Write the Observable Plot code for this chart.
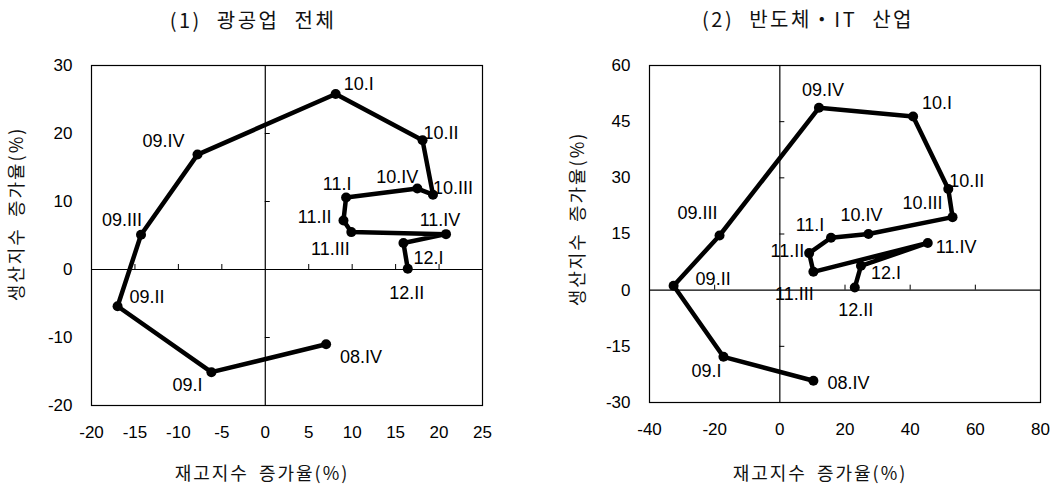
<!DOCTYPE html>
<html><head><meta charset="utf-8">
<script src="https://cdn.jsdelivr.net/npm/d3@7"></script>
<script src="https://cdn.jsdelivr.net/npm/@observablehq/plot@0.6"></script>
<style>
html,body{margin:0;padding:0;background:#fff;}
#wrap{position:relative;width:1053px;height:488px;overflow:hidden;background:#fff;}
.panel{position:absolute;top:0;}
.ktext{position:absolute;font-family:"Noto Sans CJK KR","Noto Sans",sans-serif;color:#111;white-space:nowrap;transform:translate(-50%,-50%);}
.title{font-size:20px;letter-spacing:2.5px;word-spacing:8px;}
.axt{font-size:18px;letter-spacing:2px;word-spacing:4px;}
.rot{transform:translate(-50%,-50%) rotate(-90deg);}
</style>
</head><body><div id="wrap"></div>
<script>
// ---- data ----
const quarters = ["08.IV","09.I","09.II","09.III","09.IV","10.I","10.II","10.III","10.IV","11.I","11.II","11.III","11.IV","12.I","12.II"];
const mfgInventory  = [7.0, -6.2, -17.0, -14.3, -7.8, 8.1, 18.1, 19.3, 17.5, 9.3, 9.0, 9.9, 20.8, 15.9, 16.4];
const mfgProduction = [-11.0, -15.1, -5.4, 5.1, 16.9, 25.8, 19.0, 11.0, 11.9, 10.6, 7.2, 5.5, 5.2, 3.9, 0.1];
const semiInventory  = [10.3, -17.3, -32.6, -18.5, 12.0, 40.9, 51.7, 53.0, 27.2, 15.7, 9.0, 10.3, 45.4, 24.9, 23.0];
const semiProduction = [-24.2, -17.8, 1.2, 14.6, 48.7, 46.4, 27.0, 19.5, 15.0, 14.0, 9.9, 4.9, 12.6, 6.5, 0.7];
const mfgXTicks = [-20, -15, -10, -5, 0, 5, 10, 15, 20, 25];
const mfgYTicks = [-20, -10, 0, 10, 20, 30];
const semiXTicks = [-40, -20, 0, 20, 40, 60, 80];
const semiYTicks = [-30, -15, 0, 15, 30, 45, 60];
const titles = ["(1) 광공업 전체", "(2) 반도체・IT 산업"];
const xTitle = "재고지수 증가율(%)";
const yTitle = "생산지수 증가율(%)";

// ---- label placement (layout only) ----
const mfgLabelPos = {
  "08.IV":[14,13,"start"], "09.I":[-24,13,"middle"], "09.II":[12,-9,"start"], "09.III":[1,-15,"end"],
  "09.IV":[-34,-13,"middle"], "10.I":[8,-10,"start"], "10.II":[1,-7,"start"], "10.III":[0,-6,"start"],
  "10.IV":[-20,-11,"middle"], "11.I":[-9,-13,"middle"], "11.II":[-12,-3,"end"], "11.III":[-21,17,"middle"],
  "11.IV":[-6,-14,"middle"], "12.I":[10,15,"start"], "12.II":[-1,24,"middle"]
};
const semiLabelPos = {
  "08.IV":[14,2,"start"], "09.I":[-17,14,"middle"], "09.II":[22,-6,"start"], "09.III":[-22,-22,"middle"],
  "09.IV":[4,-18,"middle"], "10.I":[9,-13,"start"], "10.II":[1,-8,"start"], "10.III":[-10,-14,"end"],
  "10.IV":[-7,-19,"middle"], "11.I":[-21,-13,"middle"], "11.II":[-5,-2,"end"], "11.III":[-19,22,"middle"],
  "11.IV":[8,4,"start"], "12.I":[10,7,"start"], "12.II":[1,23,"middle"]
};

function makeChart({xs, ys, xTicks, yTicks, labelPos, width, margins}) {
  const [mt, mr, mb, ml] = margins;
  const height = 488;
  const rows = quarters.map((q, i) => ({q, x: xs[i], y: ys[i]}));
  const xDom = [xTicks[0], xTicks[xTicks.length-1]];
  const yDom = [yTicks[0], yTicks[yTicks.length-1]];
  const pxX = (xDom[1]-xDom[0]) / (width - ml - mr);
  const pxY = (yDom[1]-yDom[0]) / (height - mt - mb);
  const tl = 5;
  const innerX = xTicks.filter(v => v !== 0 && v > xDom[0] && v < xDom[1]);
  const innerY = yTicks.filter(v => v !== 0 && v > yDom[0] && v < yDom[1]);
  const labelMarks = rows.map(r => Plot.text([r], {x: "x", y: "y", text: "q", textAnchor: labelPos[r.q][2],
      dx: labelPos[r.q][0], dy: labelPos[r.q][1], lineAnchor: "middle",
      fontSize: 18, fill: "#000", fontFamily: "'Liberation Sans', Arial, sans-serif"}));
  const fmt = d => String(d);
  return Plot.plot({
    width, height,
    marginTop: mt, marginRight: mr, marginBottom: mb, marginLeft: ml,
    style: {fontFamily: "'Liberation Sans', Arial, sans-serif", fontSize: "17px", color: "#000", background: "transparent"},
    x: {domain: xDom, ticks: xTicks, tickSize: 0, tickPadding: 20, tickFormat: fmt, label: null},
    y: {domain: yDom, ticks: yTicks, tickSize: 0, tickPadding: 19, tickFormat: fmt, label: null},
    marks: [
      Plot.frame({stroke: "#000", strokeWidth: 1.2}),
      Plot.ruleX([0], {stroke: "#000", strokeWidth: 1.2}),
      Plot.ruleY([0], {stroke: "#000", strokeWidth: 1.2}),
      Plot.ruleX(innerX, {x: d => d, y1: 0, y2: tl * pxY, stroke: "#000", strokeWidth: 1}),
      Plot.ruleY(innerY, {y: d => d, x1: 0, x2: tl * pxX, stroke: "#000", strokeWidth: 1}),
      Plot.line(rows, {x: "x", y: "y", stroke: "#000", strokeWidth: 4.5, strokeLinejoin: "round", strokeLinecap: "round"}),
      Plot.dot(rows, {x: "x", y: "y", r: 5, fill: "#000", stroke: "none"}),
      ...labelMarks
    ]
  });
}

const wrap = document.getElementById("wrap");
const left = makeChart({xs: mfgInventory, ys: mfgProduction, xTicks: mfgXTicks, yTicks: mfgYTicks,
  labelPos: mfgLabelPos, width: 527, margins: [65, 45, 83, 91]});
const right = makeChart({xs: semiInventory, ys: semiProduction, xTicks: semiXTicks, yTicks: semiYTicks,
  labelPos: semiLabelPos, width: 526, margins: [65, 13, 86, 122]});
const p1 = document.createElement("div"); p1.className = "panel"; p1.style.left = "0px"; p1.appendChild(left);
const p2 = document.createElement("div"); p2.className = "panel"; p2.style.left = "527px"; p2.appendChild(right);
wrap.appendChild(p1); wrap.appendChild(p2);

function addText(txt, cls, x, y) {
  const d = document.createElement("div");
  d.className = "ktext " + cls; d.textContent = txt;
  d.style.left = x + "px"; d.style.top = y + "px";
  wrap.appendChild(d);
}
addText(titles[0], "title", 253, 19);
addText(titles[1], "title", 808, 18);
addText(xTitle, "axt", 262, 472);
addText(xTitle, "axt", 820, 472);
addText(yTitle, "axt rot", 15, 214);
addText(yTitle, "axt rot", 576, 219);
</script></body></html>
